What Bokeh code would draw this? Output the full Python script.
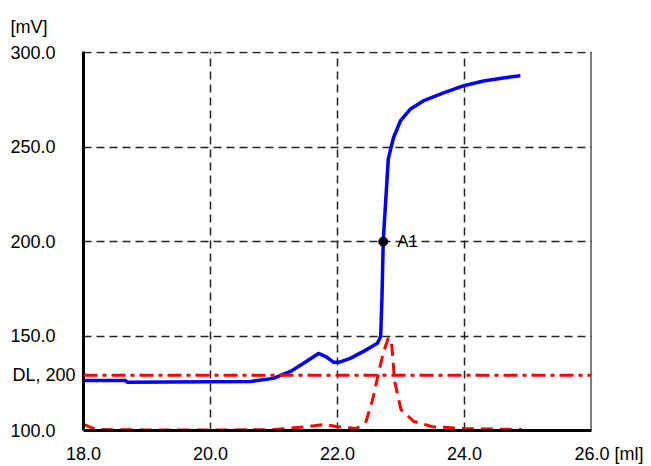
from bokeh.plotting import figure
from bokeh.models import FixedTicker, Label, Span
from bokeh.embed import file_html
from bokeh.resources import INLINE

# Titration curve (mV vs ml)
vol = [18.00, 18.66, 18.69, 20.63, 20.99, 21.26, 21.46, 21.70, 21.81, 21.94, 22.02, 22.20,
       22.41, 22.63, 22.68, 22.70, 22.72, 22.76, 22.80, 22.88, 22.99, 23.15, 23.35, 23.67,
       23.98, 24.30, 24.61, 24.88]
mv = [126.5, 126.5, 125.5, 126.0, 127.6, 131.3, 135.5, 140.8, 139.3, 136.1, 136.1, 138.2,
      141.9, 146.2, 149.9, 170.0, 200.3, 222.0, 243.8, 254.9, 263.9, 270.3, 274.5, 278.8,
      282.5, 285.1, 286.7, 287.8]

# Derivative curve (plotted in mV-equivalent scale)
dvol = [18.00, 18.2, 19.0, 20.0, 21.0, 21.5, 21.8, 22.0, 22.3, 22.45, 22.55, 22.65, 22.72,
        22.8, 22.85, 22.9, 23.0, 23.2, 23.5, 24.0, 24.9]
dval = [103.2, 100.5, 100.3, 100.2, 100.5, 102.0, 103.2, 102.0, 101.0, 104.8, 116.0, 131.0,
        141.0, 149.0, 147.0, 126.0, 111.0, 104.8, 102.0, 101.0, 100.5]

dl_level = 129.2
endpoint_x = [22.72]
endpoint_y = [200.0]

x_ticks = [18, 20, 22, 24, 26]
x_tick_labels = ["18.0", "20.0", "22.0", "24.0", "26.0 [ml]"]
y_ticks = [100, dl_level, 150, 200, 250, 300]
y_tick_labels = ["100.0", "DL, 200", "150.0", "200.0", "250.0", "300.0"]

FONT = "Liberation Sans"
NB = "\u00a0"

p = figure(width=648, height=466, x_range=(18, 26), y_range=(100, 300.7),
           output_backend="svg", toolbar_location=None,
           min_border_left=83, min_border_right=57, min_border_top=51, min_border_bottom=33)
p.outline_line_color = None
p.background_fill_color = "white"

p.title.text = "[mV]"
p.title.align = "left"
p.title.offset = -73
p.title.text_font = FONT
p.title.text_font_size = "18px"
p.title.text_font_style = "normal"
p.title.text_color = "black"
p.title.standoff = 29

p.xaxis.ticker = FixedTicker(ticks=x_ticks)
p.xaxis.major_label_overrides = {
    t: (NB * 7 + s if " " in s else s) for t, s in zip(x_ticks, x_tick_labels)}
p.yaxis.ticker = FixedTicker(ticks=y_ticks)
ylab_overrides = {}
for t, s in zip(y_ticks, y_tick_labels):
    pad = 0 if "DL" in s else 4
    ylab_overrides[t] = s + NB * pad
p.yaxis.major_label_overrides = ylab_overrides

for ax in (p.xaxis, p.yaxis):
    ax.axis_line_width = 3
    ax.axis_line_color = "black"
    ax.major_tick_line_color = None
    ax.minor_tick_line_color = None
    ax.major_label_text_font = FONT
    ax.major_label_text_font_size = "18px"
    ax.major_label_text_color = "black"
p.xaxis.major_label_standoff = 7
p.yaxis.major_label_standoff = 2

p.xgrid.ticker = FixedTicker(ticks=[20, 22, 24])
p.ygrid.ticker = FixedTicker(ticks=[150, 200, 250, 300])
for g in (p.xgrid, p.ygrid):
    g.grid_line_color = "#222222"
    g.grid_line_dash = "8 5"
    g.grid_line_width = 1.5

p.add_layout(Span(location=26, dimension="height", line_color="black", line_width=2))

p.add_layout(Span(location=dl_level, dimension="width", line_color="red",
                  line_width=3, line_dash="14 5 4 5"))

p.line(dvol, dval, line_color="red", line_width=3, line_dash="12 7")
p.line(vol, mv, line_color="blue", line_width=3.5)
p.scatter(endpoint_x, endpoint_y, size=9, color="black")
p.add_layout(Label(x=endpoint_x[0], y=endpoint_y[0], text="A1", x_offset=14,
                   text_baseline="middle", text_font=FONT, text_font_size="17px",
                   text_color="black"))

open("out.html", "w").write(file_html(p, INLINE))
